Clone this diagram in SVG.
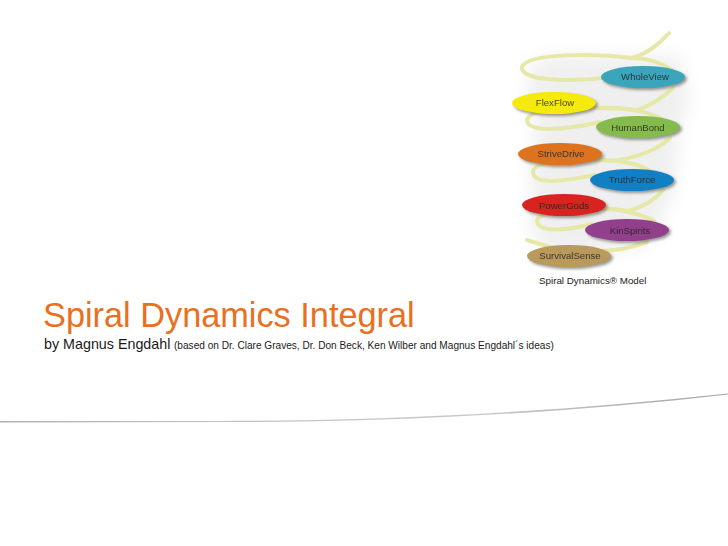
<svg xmlns="http://www.w3.org/2000/svg" width="728" height="546" viewBox="0 0 728 546">
<style>
text{font-family:"Liberation Sans",Arial,sans-serif}
.lbl{font-size:9.6px;fill:#222;fill-opacity:.82;text-anchor:middle;filter:url(#b0)}
.rib{fill:none;stroke:#e6e8a8;stroke-width:4;stroke-linecap:round}
.shd{fill:#55554f;opacity:.6;filter:url(#b2)}
</style>
<defs>
<filter id="b0" x="-10%" y="-20%" width="120%" height="140%"><feGaussianBlur stdDeviation=".3"/></filter>
<filter id="b2" x="-20%" y="-50%" width="140%" height="200%"><feGaussianBlur stdDeviation="1.5"/></filter>
<filter id="b8" x="-30%" y="-30%" width="160%" height="160%"><feGaussianBlur stdDeviation="9"/></filter>
<linearGradient id="sw" x1="0" x2="1" y1="0" y2="0"><stop offset="0" stop-color="#b0b0b0"/><stop offset=".4" stop-color="#c4c4c4"/><stop offset=".65" stop-color="#c8c8c8"/><stop offset="1" stop-color="#a8a8a8"/></linearGradient>
</defs>
<rect width="728" height="546" fill="#fff"/>
<g id="haze" fill="#000" opacity=".06" filter="url(#b8)">
<path d="M545,55 H680 L690,100 L680,130 L675,190 L650,245 L560,262 L530,235 L530,175 L535,125 L525,75 Z"/>
</g>
<g id="connectors">
<path class="rib" d="M669,33 C658,45 648,53 632,58 C600,54 528,52 522,67 C520,80 565,83 612,77"/>
<path class="rib" d="M632,58 C645,58 660,62 672,70"/>
<path class="rib" d="M673,88 C662,98 650,106 637,110 C620,108 606,107 597,108 C570,106 530,108 527,120 C527,133 565,130 600,122"/>
<path class="rib" d="M597,108 C620,108 645,110 660,118"/>
<path class="rib" d="M670,138 C660,148 640,157 613,161 C580,157 536,160 533,171 C532,186 565,181 595,175"/>
<path class="rib" d="M603,160 C620,160 640,164 652,172"/>
<path class="rib" d="M663,190 C655,200 643,207 628,211 C600,206 540,210 537,220 C537,233 565,231 592,224"/>
<path class="rib" d="M610,209 C625,211 642,214 654,221"/>
<path class="rib" d="M647,242 C635,246 625,249 613,250 C590,253 575,252 563,250 C548,247 537,243 527,240"/>
</g>
<g id="wholeview"><ellipse class="shd" cx="645" cy="79" rx="42" ry="11"/><ellipse cx="643" cy="77" rx="42" ry="11" fill="#3aa5bb"/><text class="lbl" x="645" y="80">WholeView</text></g>
<g id="flexflow"><ellipse class="shd" cx="556" cy="105" rx="42" ry="11"/><ellipse cx="554" cy="103" rx="42" ry="11" fill="#f6ea0c"/><text class="lbl" x="555" y="106">FlexFlow</text></g>
<g id="humanbond"><ellipse class="shd" cx="640" cy="129" rx="42" ry="11"/><ellipse cx="638" cy="127" rx="42" ry="11" fill="#84bb4c"/><text class="lbl" x="638" y="131">HumanBond</text></g>
<g id="strivedrive"><ellipse class="shd" cx="562" cy="156" rx="42" ry="11"/><ellipse cx="560" cy="154" rx="42" ry="11" fill="#dd731f"/><text class="lbl" x="561" y="157">StriveDrive</text></g>
<g id="truthforce"><ellipse class="shd" cx="634" cy="182" rx="42" ry="11"/><ellipse cx="632" cy="180" rx="42" ry="11" fill="#107fc3"/><text class="lbl" x="632" y="183">TruthForce</text></g>
<g id="powergods"><ellipse class="shd" cx="566" cy="207" rx="42" ry="11"/><ellipse cx="564" cy="205" rx="42" ry="11" fill="#d8231f"/><text class="lbl" x="564" y="209">PowerGods</text></g>
<g id="kinspirits"><ellipse class="shd" cx="629" cy="232" rx="42" ry="11"/><ellipse cx="627" cy="230" rx="42" ry="11" fill="#923f8c"/><text class="lbl" x="630" y="234">KinSpirits</text></g>
<g id="survivalsense"><ellipse class="shd" cx="571" cy="258" rx="42" ry="11"/><ellipse cx="569" cy="256" rx="42" ry="11" fill="#b99a5c"/><text class="lbl" x="570" y="259">SurvivalSense</text></g>
<text x="539" y="284" font-size="9.8" fill="#222">Spiral Dynamics® Model</text>
<text x="43" y="327" font-size="34.3" fill="#e8701f">Spiral Dynamics Integral</text>
<text x="44" y="349" font-size="14.3" fill="#1a1a1a">by Magnus Engdahl</text>
<text x="174" y="349" font-size="10.1" fill="#1a1a1a">(based on Dr. Clare Graves, Dr. Don Beck, Ken Wilber and Magnus Engdahl´s ideas)</text>
<path id="swoosh" d="M0,421 L220,421 C380,421 560,412 728,393.5 L728,394.5 C560,414 380,422.500 220,422 L0,422.500 Z" fill="url(#sw)"/>
</svg>
